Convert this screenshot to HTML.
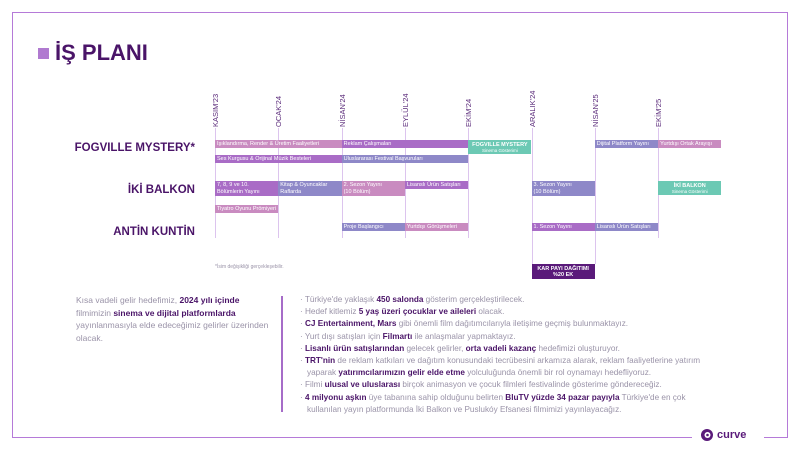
<!DOCTYPE html>
<html><head><meta charset="utf-8">
<style>
*{margin:0;padding:0;box-sizing:border-box}
body{width:800px;height:450px;background:#fff;position:relative;overflow:hidden;font-family:"Liberation Sans",sans-serif}
.abs{position:absolute}
.frame-l{left:12px;top:12px;width:1px;height:426px;background:#b57ad8}
.frame-t{left:12px;top:12px;width:776px;height:1px;background:#b57ad8}
.frame-r{left:787px;top:12px;width:1px;height:426px;background:#b57ad8}
.frame-b1{left:12px;top:437px;width:680px;height:1px;background:#b57ad8}
.frame-b2{left:764px;top:437px;width:24px;height:1px;background:#b57ad8}
.title{left:38px;top:40px;font-size:22px;font-weight:bold;color:#4a1468;display:flex;align-items:center}
.title span.sq{display:inline-block;width:11px;height:11px;background:#b07ad0;margin-right:6px}
.month{font-size:7.5px;color:#5a2a7a;transform-origin:left top;transform:rotate(-90deg);white-space:nowrap}
.vline{width:1px;background:#dcc4ee}
.rowlab{font-size:11.5px;font-weight:bold;color:#4a1468;text-align:right;width:190px}
.bar{font-size:5.5px;color:#fff;padding:1px 2px;line-height:6.5px;overflow:hidden;white-space:nowrap}
.box{color:#fff;text-align:center;font-weight:bold;font-size:5.5px;line-height:6px;padding-top:2px}
.box small{display:block;font-weight:normal;font-size:4.5px}
.para{font-size:8.5px;line-height:12.5px;color:#9a93a8}
.para b{color:#4a1468}
.bul{font-size:8.2px;line-height:12.2px;color:#9a93a8;left:300px;width:420px}
.bul b{color:#4a1468}
.bul div{padding-left:7px;text-indent:-7px}
</style></head><body>
<div class="abs frame-l"></div>
<div class="abs frame-t"></div>
<div class="abs frame-r"></div>
<div class="abs frame-b1"></div>
<div class="abs frame-b2"></div>
<div class="abs title"><span class="sq"></span>İŞ PLANI</div>

<div id="gantt"></div>

<div class="abs rowlab" style="left:5px;top:142px">FOGVILLE MYSTERY*</div>
<div class="abs rowlab" style="left:5px;top:184px">İKİ BALKON</div>
<div class="abs rowlab" style="left:5px;top:226px">ANTİN KUNTİN</div>
<div class="abs" style="left:215px;top:264px;font-size:5px;color:#9a93a8">*İsim değişikliği gerçekleşebilir.</div>

<div class="abs para" style="left:76px;top:294px;width:200px">Kısa vadeli gelir hedefimiz, <b>2024 yılı içinde</b> filmimizin <b>sinema ve dijital platformlarda</b> yayınlanmasıyla elde edeceğimiz gelirler üzerinden olacak.</div>
<div class="abs" style="left:281px;top:296px;width:2px;height:116px;background:#a66cc8"></div>
<div class="abs bul" style="top:294px">
<div>· Türkiye'de yaklaşık <b>450 salonda</b> gösterim gerçekleştirilecek.</div>
<div>· Hedef kitlemiz <b>5 yaş üzeri çocuklar ve aileleri</b> olacak.</div>
<div>· <b>CJ Entertainment, Mars</b> gibi önemli film dağıtımcılarıyla iletişime geçmiş bulunmaktayız.</div>
<div>· Yurt dışı satışları için <b>Filmartı</b> ile anlaşmalar yapmaktayız.</div>
<div>· <b>Lisanlı ürün satışlarından</b> gelecek gelirler, <b>orta vadeli kazanç</b> hedefimizi oluşturuyor.</div>
<div>· <b>TRT'nin</b> de reklam katkıları ve dağıtım konusundaki tecrübesini arkamıza alarak, reklam faaliyetlerine yatırım yaparak <b>yatırımcılarımızın gelir elde etme</b> yolculuğunda önemli bir rol oynamayı hedefliyoruz.</div>
<div>· Filmi <b>ulusal ve uluslarası</b> birçok animasyon ve çocuk filmleri festivalinde gösterime göndereceğiz.</div>
<div>· <b>4 milyonu aşkın</b> üye tabanına sahip olduğunu belirten <b>BluTV yüzde 34 pazar payıyla</b> Türkiye'de en çok kullanılan yayın platformunda İki Balkon ve Puslukóy Efsanesi filmimizi yayınlayacağız.</div>
</div>

<div class="abs" style="left:700px;top:428px;display:flex;align-items:center">
<svg width="14" height="14" viewBox="0 0 14 14"><circle cx="7" cy="7" r="6" fill="#5a1a7a"/><circle cx="7.5" cy="7" r="3" fill="#fff"/><circle cx="7.5" cy="7" r="1.3" fill="#5a1a7a"/></svg>
<span style="font-size:11px;font-weight:bold;color:#5a1a7a;margin-left:3px">curve</span></div>

<script>
const months=["KASIM'23","OCAK'24","NİSAN'24","EYLÜL'24","EKİM'24","ARALIK'24","NİSAN'25","EKİM'25"];
const taskLabels=["Işıklandırma, Render & Üretim Faaliyetleri","Reklam Çalışmaları","Dijital Platform Yayını","Yurtdışı Ortak Arayışı","Ses Kurgusu & Orijinal Müzik Besteleri","Uluslararası Festival Başvuruları","7, 8, 9 ve 10.<br>Bölümlerin Yayını","Kitap & Oyuncaklar<br>Raflarda","2. Sezon Yayını<br>(10 Bölüm)","Lisanslı Ürün Satışları","3. Sezon Yayını<br>(10 Bölüm)","Tiyatro Oyunu Prömiyeri","Proje Başlangıcı","Yurtdışı Görüşmeleri","1. Sezon Yayını","Lisanslı Ürün Satışları"];
const taskStart=[0,2,6,7,0,2,0,1,2,3,5,0,2,3,5,6];
const taskEnd=[2,4,7,8,2,4,1,2,3,4,6,1,3,4,6,7];
const taskLane=[0,0,0,0,1,1,2,2,2,2,2,3,4,4,4,4];
const taskColor=[0,1,2,0,1,2,1,2,0,1,2,0,2,0,1,2];
const taskTall=[0,0,0,0,0,0,1,1,1,0,1,0,0,0,0,0];
const colors=["#c98bc0","#a96cc6","#8e88c8"];
const laneY=[140,155,181,205,223];
const X0=215, DX=63.3;
function xs(i){return X0+i*DX;}
const g=document.getElementById('gantt');
months.forEach((m,i)=>{
  const l=document.createElement('div');
  l.className='abs vline';
  
  
  l.style.left=xs(i)+'px';l.style.top='128px';
  l.style.height=((i===5||i===6)?136:110)+'px';
  g.appendChild(l);
  const t=document.createElement('div');
  t.className='abs month';
  
  
  t.textContent=m;
  t.style.left=(xs(i)-4)+'px';t.style.top='127px';
  g.appendChild(t);
});
taskLabels.forEach((lab,k)=>{
  const b=document.createElement('div');
  b.className='abs bar';
  
  
  b.innerHTML=lab;
  const x1=xs(taskStart[k]),x2=xs(taskEnd[k]);
  b.style.left=x1+'px';b.style.width=(x2-x1)+'px';
  b.style.top=laneY[taskLane[k]]+'px';
  b.style.height=(taskTall[k]?15:7.5)+'px';
  b.style.background=colors[taskColor[k]];
  if(taskTall[k])b.style.whiteSpace='normal';
  g.appendChild(b);
});
function box(html,i0,i1,y,h,bg){
  const b=document.createElement('div');
  b.className='abs box';
  b.innerHTML=html;
  b.style.left=xs(i0)+'px';b.style.width=(xs(i1)-xs(i0))+'px';
  b.style.top=y+'px';b.style.height=h+'px';b.style.background=bg;
  g.appendChild(b);return b;
}
const b1=box('FOGVILLE MYSTERY<small>Sinema Gösterimi</small>',4,5,140,14,'#6cc9b4');


const b2=box('İKİ BALKON<small>Sinema Gösterimi</small>',7,8,181,14,'#6cc9b4');


const b3=box('KAR PAYI DAĞITIMI<br>%20 EK',5,6,264,15,'#5a1a7a');


</script>
</body></html>
